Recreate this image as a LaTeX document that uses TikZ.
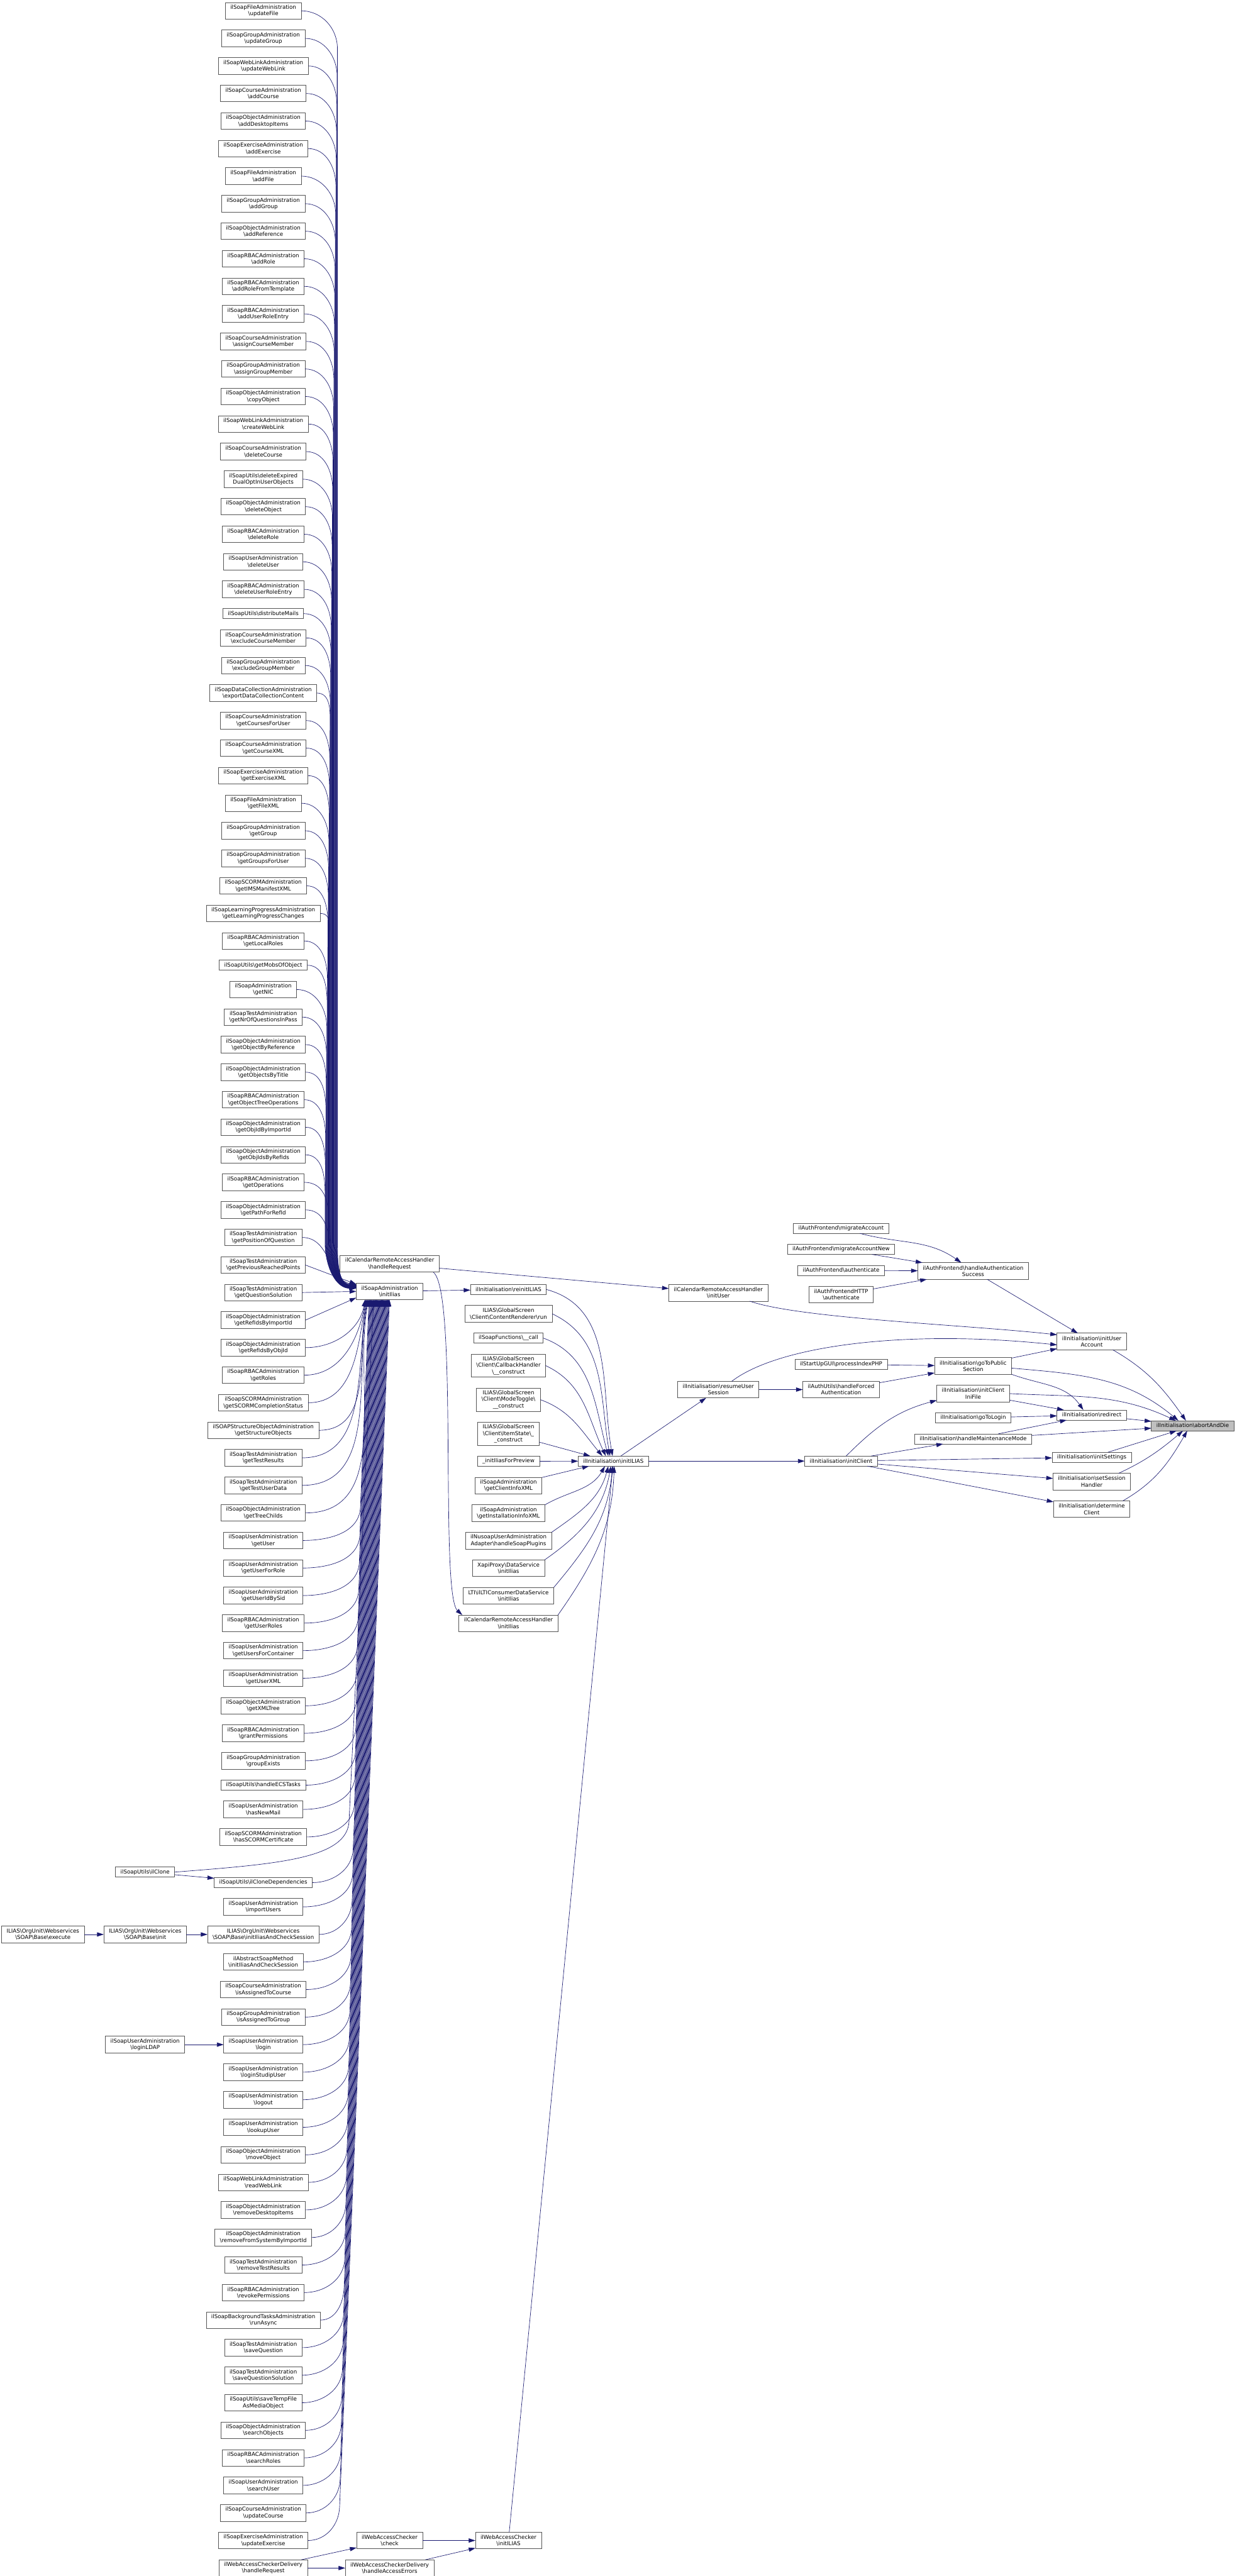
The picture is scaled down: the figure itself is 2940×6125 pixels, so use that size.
\documentclass[tikz,border=0pt]{standalone}
\usepackage{fontspec}
\setmainfont{DejaVu Sans}
\usetikzlibrary{arrows.meta, positioning, calc}

\definecolor{callblue}{HTML}{191970}
\definecolor{boxgray}{HTML}{555555}
\definecolor{rootgray}{HTML}{BFBFBF}
\newcommand{\bs}{\textbackslash}

\tikzset{
  fn/.style={draw=boxgray, line width=1.2pt, fill=white, align=center,
    inner xsep=12pt, inner ysep=1pt, outer sep=0pt, minimum height=24pt,
    font=\fontsize{13pt}{15.5pt}\selectfont},
  fn2/.style={fn, minimum height=39.5pt},
  fn3/.style={fn, minimum height=55pt},
  rootfn/.style={fn, fill=rootgray},
  call/.style={draw=callblue, line width=1pt, -{Triangle[length=16pt,width=10pt]}},
}

\begin{document}
\begin{tikzpicture}[x=1pt, y=1pt]
  \useasboundingbox (0,0) rectangle (2940,-6125);
  \coordinate (colA) at (102,0);
  \coordinate (colB) at (345,0);

  \coordinate (l0) at (626,20);
  \foreach \st/\txt [count=\i, remember=\i as \j (initially 0)] in {
    fn2/ilSoapFileAdministration\\\bs updateFile,
    fn2/ilSoapGroupAdministration\\\bs updateGroup,
    fn2/ilSoapWebLinkAdministration\\\bs updateWebLink,
    fn2/ilSoapCourseAdministration\\\bs addCourse,
    fn2/ilSoapObjectAdministration\\\bs addDesktopItems,
    fn2/ilSoapExerciseAdministration\\\bs addExercise,
    fn2/ilSoapFileAdministration\\\bs addFile,
    fn2/ilSoapGroupAdministration\\\bs addGroup,
    fn2/ilSoapObjectAdministration\\\bs addReference,
    fn2/ilSoapRBACAdministration\\\bs addRole,
    fn2/ilSoapRBACAdministration\\\bs addRoleFromTemplate,
    fn2/ilSoapRBACAdministration\\\bs addUserRoleEntry,
    fn2/ilSoapCourseAdministration\\\bs assignCourseMember,
    fn2/ilSoapGroupAdministration\\\bs assignGroupMember,
    fn2/ilSoapObjectAdministration\\\bs copyObject,
    fn2/ilSoapWebLinkAdministration\\\bs createWebLink,
    fn2/ilSoapCourseAdministration\\\bs deleteCourse,
    fn2/ilSoapUtils\bs deleteExpired\\DualOptInUserObjects,
    fn2/ilSoapObjectAdministration\\\bs deleteObject,
    fn2/ilSoapRBACAdministration\\\bs deleteRole,
    fn2/ilSoapUserAdministration\\\bs deleteUser,
    fn2/ilSoapRBACAdministration\\\bs deleteUserRoleEntry,
    fn/ilSoapUtils\bs distributeMails,
    fn2/ilSoapCourseAdministration\\\bs excludeCourseMember,
    fn2/ilSoapGroupAdministration\\\bs excludeGroupMember,
    fn2/ilSoapDataCollectionAdministration\\\bs exportDataCollectionContent,
    fn2/ilSoapCourseAdministration\\\bs getCoursesForUser,
    fn2/ilSoapCourseAdministration\\\bs getCourseXML,
    fn2/ilSoapExerciseAdministration\\\bs getExerciseXML,
    fn2/ilSoapFileAdministration\\\bs getFileXML,
    fn2/ilSoapGroupAdministration\\\bs getGroup,
    fn2/ilSoapGroupAdministration\\\bs getGroupsForUser,
    fn2/ilSoapSCORMAdministration\\\bs getIMSManifestXML,
    fn2/ilSoapLearningProgressAdministration\\\bs getLearningProgressChanges,
    fn2/ilSoapRBACAdministration\\\bs getLocalRoles,
    fn/ilSoapUtils\bs getMobsOfObject,
    fn2/ilSoapAdministration\\\bs getNIC,
    fn2/ilSoapTestAdministration\\\bs getNrOfQuestionsInPass,
    fn2/ilSoapObjectAdministration\\\bs getObjectByReference,
    fn2/ilSoapObjectAdministration\\\bs getObjectsByTitle,
    fn2/ilSoapRBACAdministration\\\bs getObjectTreeOperations,
    fn2/ilSoapObjectAdministration\\\bs getObjIdByImportId,
    fn2/ilSoapObjectAdministration\\\bs getObjIdsByRefIds,
    fn2/ilSoapRBACAdministration\\\bs getOperations,
    fn2/ilSoapObjectAdministration\\\bs getPathForRefId,
    fn2/ilSoapTestAdministration\\\bs getPositionOfQuestion,
    fn2/ilSoapTestAdministration\\\bs getPreviousReachedPoints,
    fn2/ilSoapTestAdministration\\\bs getQuestionSolution,
    fn2/ilSoapObjectAdministration\\\bs getRefIdsByImportId,
    fn2/ilSoapObjectAdministration\\\bs getRefIdsByObjId,
    fn2/ilSoapRBACAdministration\\\bs getRoles,
    fn2/ilSoapSCORMAdministration\\\bs getSCORMCompletionStatus,
    fn2/ilSOAPStructureObjectAdministration\\\bs getStructureObjects,
    fn2/ilSoapTestAdministration\\\bs getTestResults,
    fn2/ilSoapTestAdministration\\\bs getTestUserData,
    fn2/ilSoapObjectAdministration\\\bs getTreeChilds,
    fn2/ilSoapUserAdministration\\\bs getUser,
    fn2/ilSoapUserAdministration\\\bs getUserForRole,
    fn2/ilSoapUserAdministration\\\bs getUserIdBySid,
    fn2/ilSoapRBACAdministration\\\bs getUserRoles,
    fn2/ilSoapUserAdministration\\\bs getUsersForContainer,
    fn2/ilSoapUserAdministration\\\bs getUserXML,
    fn2/ilSoapObjectAdministration\\\bs getXMLTree,
    fn2/ilSoapRBACAdministration\\\bs grantPermissions,
    fn2/ilSoapGroupAdministration\\\bs groupExists,
    fn/ilSoapUtils\bs handleECSTasks,
    fn2/ilSoapUserAdministration\\\bs hasNewMail,
    fn2/ilSoapSCORMAdministration\\\bs hasSCORMCertificate}
    \node[\st, below=26pt of l\j] (l\i) {\txt};
  \node[fn, below=76.75pt of l68] (l69) {ilSoapUtils\bs ilCloneDependencies};
  \foreach \st/\txt [count=\i from 70, remember=\i as \j (initially 69)] in {
    fn2/ilSoapUserAdministration\\\bs importUsers,
    fn2/ILIAS\bs OrgUnit\bs Webservices\\\bs SOAP\bs Base\bs initIliasAndCheckSession,
    fn2/ilAbstractSoapMethod\\\bs initIliasAndCheckSession,
    fn2/ilSoapCourseAdministration\\\bs isAssignedToCourse,
    fn2/ilSoapGroupAdministration\\\bs isAssignedToGroup,
    fn2/ilSoapUserAdministration\\\bs login,
    fn2/ilSoapUserAdministration\\\bs loginStudipUser,
    fn2/ilSoapUserAdministration\\\bs logout,
    fn2/ilSoapUserAdministration\\\bs lookupUser,
    fn2/ilSoapObjectAdministration\\\bs moveObject,
    fn2/ilSoapWebLinkAdministration\\\bs readWebLink,
    fn2/ilSoapObjectAdministration\\\bs removeDesktopItems,
    fn2/ilSoapObjectAdministration\\\bs removeFromSystemByImportId,
    fn2/ilSoapTestAdministration\\\bs removeTestResults,
    fn2/ilSoapRBACAdministration\\\bs revokePermissions,
    fn2/ilSoapBackgroundTasksAdministration\\\bs runAsync,
    fn2/ilSoapTestAdministration\\\bs saveQuestion,
    fn2/ilSoapTestAdministration\\\bs saveQuestionSolution,
    fn2/ilSoapUtils\bs saveTempFile\\AsMediaObject,
    fn2/ilSoapObjectAdministration\\\bs searchObjects,
    fn2/ilSoapRBACAdministration\\\bs searchRoles,
    fn2/ilSoapUserAdministration\\\bs searchUser,
    fn2/ilSoapCourseAdministration\\\bs updateCourse,
    fn2/ilSoapExerciseAdministration\\\bs updateExercise,
    fn2/ilWebAccessCheckerDelivery\\\bs handleRequest}
    \node[\st, below=26pt of l\j] (l\i) {\txt};

  \node[fn2] (execute) at (colA |- l71) {ILIAS\bs OrgUnit\bs Webservices\\\bs SOAP\bs Base\bs execute};
  \node[fn2] (baseinit) at (colB |- l71) {ILIAS\bs OrgUnit\bs Webservices\\\bs SOAP\bs Base\bs init};
  \node[fn] (ilclone) at ($(colB |- l69)+(0,25)$) {ilSoapUtils\bs ilClone};
  \node[fn2] (loginldap) at (colB |- l75) {ilSoapUserAdministration\\\bs loginLDAP};

  \node[fn2] (soapinit) at (926.5,-3070.5) {ilSoapAdministration\\\bs initIlias};
  \node[fn2, above=26pt of soapinit] (calreq) {ilCalendarRemoteAccessHandler\\\bs handleRequest};
  \node[fn2] (wacheck) at (soapinit |- l93) {ilWebAccessChecker\\\bs check};
  \node[fn2] (waerr) at (soapinit |- l94) {ilWebAccessCheckerDelivery\\\bs handleAccessErrors};

  \node[fn] (reinit) at (1209,-3066) {ilInitialisation\bs reinitILIAS};
  \node[fn2, below=26pt of reinit] (gsrun) {ILIAS\bs GlobalScreen\\\bs Client\bs ContentRenderer\bs run};
  \node[fn, below=26pt of gsrun] (soapcall) {ilSoapFunctions\bs\_\_call};
  \node[fn3, below=26pt of soapcall] (gscallback) {ILIAS\bs GlobalScreen\\\bs Client\bs CallbackHandler\\\bs\_\_construct};
  \node[fn3, below=26pt of gscallback] (gstoggle) {ILIAS\bs GlobalScreen\\\bs Client\bs ModeToggle\bs\\\_\_construct};
  \node[fn3, below=26pt of gstoggle] (gsitem) {ILIAS\bs GlobalScreen\\\bs Client\bs ItemState\bs\_\\\_construct};
  \node[fn, below=26pt of gsitem] (preview) {\_initIliasForPreview};
  \node[fn2, below=26pt of preview] (clientinfo) {ilSoapAdministration\\\bs getClientInfoXML};
  \node[fn2, below=26pt of clientinfo] (instinfo) {ilSoapAdministration\\\bs getInstallationInfoXML};
  \node[fn2, below=26pt of instinfo] (soapplugins) {ilNusoapUserAdministration\\Adapter\bs handleSoapPlugins};
  \node[fn2, below=26pt of soapplugins] (xapi) {XapiProxy\bs DataService\\\bs initIlias};
  \node[fn2, below=26pt of xapi] (ltiinit) {LTI\bs ilLTIConsumerDataService\\\bs initIlias};
  \node[fn2, below=26pt of ltiinit] (calinit) {ilCalendarRemoteAccessHandler\\\bs initIlias};
  \node[fn2] (wainit) at (reinit |- l93) {ilWebAccessChecker\\\bs initILIAS};

  \node[fn] (initilias) at (1458.5,-3474) {ilInitialisation\bs initILIAS};

  \node[fn2] (calinituser) at (1708,-3074) {ilCalendarRemoteAccessHandler\\\bs initUser};
  \node[fn2] (resume) at (1708,-3304) {ilInitialisation\bs resumeUser\\Session};

  \node[fn] (migacc) at (2000,-2920.6) {ilAuthFrontend\bs migrateAccount};
  \node[fn, below=26pt of migacc] (migaccnew) {ilAuthFrontend\bs migrateAccountNew};
  \node[fn, below=26pt of migaccnew] (authfe) {ilAuthFrontend\bs authenticate};
  \node[fn2, below=26pt of authfe] (authhttp) {ilAuthFrontendHTTP\\\bs authenticate};
  \node[fn] (indexphp) at (2000,-3244) {ilStartUpGUI\bs processIndexPHP};
  \node[fn2] (forcedauth) at (2000,-3304) {ilAuthUtils\bs handleForced\\Authentication};
  \node[fn] (initclient) at (2000,-3474) {ilInitialisation\bs initClient};

  \node[fn2] (authsuccess) at (2314,-3022) {ilAuthFrontend\bs handleAuthentication\\Success};
  \node[fn2] (gotopublic) at (2314,-3248) {ilInitialisation\bs goToPublic\\Section};
  \node[fn2, below=26pt of gotopublic] (inifile) {ilInitialisation\bs initClient\\IniFile};
  \node[fn, below=26pt of inifile] (gotologin) {ilInitialisation\bs goToLogin};
  \node[fn, below=26pt of gotologin] (maint) {ilInitialisation\bs handleMaintenanceMode};

  \node[fn2] (inituser) at (2596,-3189.7) {ilInitialisation\bs initUser\\Account};
  \node[fn] (redirect) at (2596,-3364.5) {ilInitialisation\bs redirect};
  \node[fn] (initsettings) at (2596,-3465) {ilInitialisation\bs initSettings};
  \node[fn2, below=26pt of initsettings] (sessionhandler) {ilInitialisation\bs setSession\\Handler};
  \node[fn2, below=26pt of sessionhandler] (determine) {ilInitialisation\bs determine\\Client};

  \node[rootfn] (abort) at (2836,-3390) {ilInitialisation\bs abortAndDie};

  \foreach \i in {1,...,43}{
    \pgfmathsetmacro\bx{803-0.7*\i}
    \pgfmathsetmacro\ey{16-0.2*\i}
    \draw[call] let \p1=(l\i.east) in (\p1) to[out=0,in=90] (\bx pt,\y1-90pt)
      -- (\bx,-2955) to[out=-90,in=180] ([yshift=\ey pt]soapinit.west);
  }
  \foreach \i/\ey in {44/14, 45/12, 46/10}
    \draw[call] (l\i.east) to[out=0,in=165] ([yshift=\ey pt]soapinit.west);
  \draw[call] (l47.east) -- ([yshift=17pt]soapinit.west);
  \draw[call] (l48.east) -- (soapinit.west);
  \draw[call] (l49.east) -- ([yshift=-15pt]soapinit.west);
  \foreach \i in {50,...,56}{
    \pgfmathsetmacro\dx{-58.5+1.35*(\i-50)}
    \draw[call] (l\i.east) to[out=0,in=-100] ([xshift=\dx pt]soapinit.south);
  }
  \foreach \i in {57,...,93}{
    \pgfmathsetmacro\dx{-58.5+1.35*(\i-50)}
    \draw[call] let \p1=(l\i.east), \p2=([xshift=\dx pt]soapinit.south),
      \n1={\x2+0.0413*(\y1+80pt-(\y2))}, \n2={\y1+80pt} in
      (\p1) to[out=0,in=-92] (\n1,\n2) -- (\p2);
  }
  \draw[call] (ilclone.east) .. controls (660,-4432) and (826,-4420) .. (830,-4330)
    -- ([xshift=-38pt]soapinit.south);
  \draw[call] (ilclone) -- (l69);
  \draw[call] (execute) -- (baseinit);
  \draw[call] (baseinit) -- (l71);
  \draw[call] (loginldap) -- (l75);
  \draw[call] (l94) -- (wacheck);
  \draw[call] (l94) -- (waerr);
  \draw[call] (wacheck) -- (wainit);
  \draw[call] (waerr) -- (wainit);
  \draw[call] (wainit) -- (initilias);

  \draw[call] (soapinit) -- (reinit);
  \draw[call] (calreq) -- (calinituser);
  \draw[call] ([xshift=-14pt]calreq.south east) .. controls (1090,-3070) and (1045,-3790)
    .. ([xshift=8pt]calinit.north west);

  \draw[call] (reinit.east) to[out=-15,in=100] ([xshift=-2pt]initilias.north);
  \draw[call] (gsrun.east) to[out=-25,in=100] ([xshift=-8pt]initilias.north);
  \draw[call] (soapcall.east) to[out=-20,in=105] ([xshift=-12pt]initilias.north);
  \draw[call] (gscallback.east) to[out=-25,in=115] ([xshift=-18pt]initilias.north);
  \draw[call] (gstoggle.east) to[out=-20,in=130] ([xshift=-26pt]initilias.north);
  \draw[call] (gsitem) -- ([xshift=-55pt]initilias.north);
  \draw[call] (preview) -- (initilias);
  \draw[call] (clientinfo) -- ([xshift=-58pt]initilias.south);
  \draw[call] (instinfo.north east) to[out=30,in=-120] ([xshift=-20pt]initilias.south);
  \draw[call] (soapplugins.north east) to[out=35,in=-105] ([xshift=-12pt]initilias.south);
  \draw[call] (xapi.north east) to[out=35,in=-100] ([xshift=-6pt]initilias.south);
  \draw[call] (ltiinit.north east) to[out=50,in=-95] ([xshift=-2pt]initilias.south);
  \draw[call] (calinit.north east) to[out=55,in=-92] ([xshift=2pt]initilias.south);

  \draw[call] (initilias) -- (resume);
  \draw[call] (initilias) -- (initclient);
  \draw[call] ([xshift=-43pt]calinituser.south east) .. controls (1900,-3135) and (2300,-3150)
    .. ([yshift=16pt]inituser.west);
  \draw[call] ([xshift=32pt]resume.north) .. controls (1850,-3200) and (2150,-3160)
    .. ([yshift=-8pt]inituser.west);
  \draw[call] (resume) -- (forcedauth);
  \draw[call] (forcedauth) -- (gotopublic);
  \draw[call] (indexphp) -- (gotopublic);
  \draw[call] (migacc) to[out=-15,in=145] (authsuccess);
  \draw[call] (migaccnew) -- (authsuccess);
  \draw[call] (authfe) -- (authsuccess);
  \draw[call] (authhttp) -- (authsuccess);
  \draw[call] (authsuccess) -- (inituser);
  \draw[call] (gotopublic) -- (inituser);
  \draw[call] ([yshift=-5pt]gotopublic.east) to[out=-5,in=140] ([xshift=-34pt]abort.north);
  \draw[call] (gotopublic.south east) to[out=-20,in=125] ([xshift=-20pt]redirect.north);
  \draw[call] (initclient) to[out=45,in=195] ([yshift=-16pt]inifile.west);
  \draw[call] (initclient) -- (maint);
  \draw[call] (initclient) -- (initsettings);
  \draw[call] (initclient) -- (sessionhandler);
  \draw[call] (initclient) -- (determine);
  \draw[call] (inifile.east) to[out=-3,in=155] ([xshift=-40pt]abort.north);
  \draw[call] (inifile) -- (redirect);
  \draw[call] (gotologin) -- (redirect);
  \draw[call] (maint) -- (redirect);
  \draw[call] (maint) -- (abort);
  \draw[call] ([xshift=50pt]inituser.south) to[out=-30,in=125] ([xshift=-16pt]abort.north);
  \draw[call] (redirect) -- (abort);
  \draw[call] (initsettings) -- (abort);
  \draw[call] ([xshift=64pt]sessionhandler.north) to[out=25,in=-140] ([xshift=-23pt]abort.south);
  \draw[call] ([xshift=74pt]determine.north) to[out=30,in=-120] ([xshift=-13pt]abort.south);
\end{tikzpicture}
\end{document}
